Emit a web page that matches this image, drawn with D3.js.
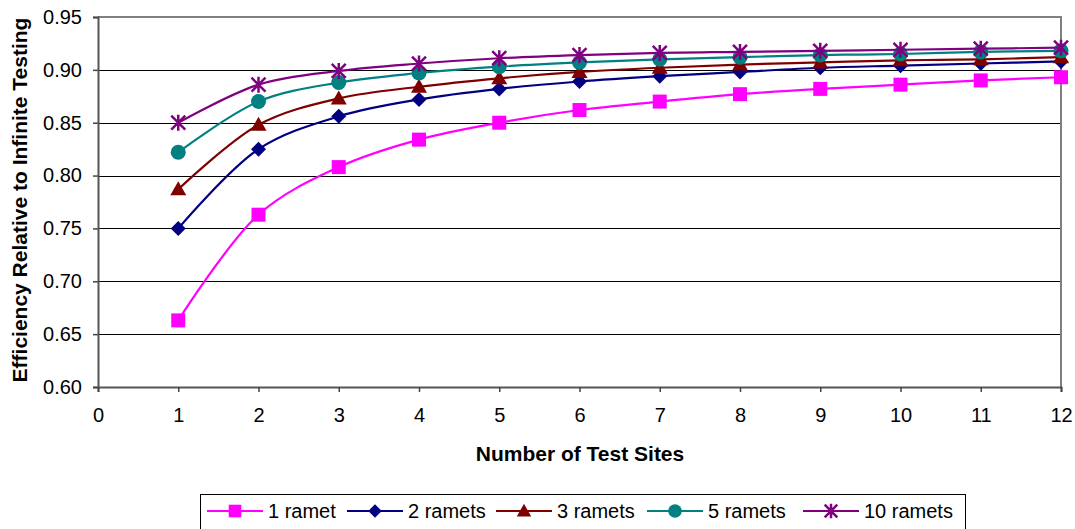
<!DOCTYPE html>
<html><head><meta charset="utf-8">
<script src="https://cdn.jsdelivr.net/npm/d3@7"></script>
<style>
body{margin:0;background:#fff;}
text{font-family:"Liberation Sans",Arial,sans-serif;}
</style></head>
<body><svg id="c" width="1075" height="529"></svg>
<script>
const sites = [1,2,3,4,5,6,7,8,9,10,11,12];
const ramet1  = [0.663,0.763,0.808,0.834,0.850,0.862,0.870,0.877,0.882,0.886,0.890,0.893];
const ramets2 = [0.750,0.825,0.856,0.872,0.882,0.889,0.894,0.898,0.902,0.904,0.906,0.908];
const ramets3 = [0.787,0.848,0.873,0.884,0.892,0.898,0.902,0.905,0.907,0.909,0.910,0.912];
const ramets5 = [0.822,0.870,0.888,0.897,0.903,0.907,0.910,0.912,0.914,0.915,0.917,0.918];
const ramets10= [0.850,0.886,0.899,0.906,0.911,0.914,0.916,0.917,0.918,0.919,0.920,0.921];
const seriesNames = ["1 ramet","2 ramets","3 ramets","5 ramets","10 ramets"];
const xTicks = [0,1,2,3,4,5,6,7,8,9,10,11,12];
const yTicks = [0.60,0.65,0.70,0.75,0.80,0.85,0.90,0.95];

const colors = ["#FF00FF","#000080","#800000","#008080","#800080"];
const shapes = ["square","diamond","triangle","circle","star"];
const allSeries = [ramet1,ramets2,ramets3,ramets5,ramets10];

const svg = d3.select("#c");
const L=98, R=1061, T=17, B=387;
const x = d3.scaleLinear().domain([0,12]).range([L,R]);
const y = d3.scaleLinear().domain([0.60,0.95]).range([B,T]);
const FS = 20, TFS = 21;

// gridlines
svg.append("g").selectAll("line").data(yTicks.filter(v=>v>0.6+1e-9 && v<0.95-1e-9)).join("line")
  .attr("x1",L).attr("x2",R).attr("y1",d=>Math.round(y(d))+0.5).attr("y2",d=>Math.round(y(d))+0.5)
  .attr("stroke","#000").attr("stroke-width",1);
// top/right border
svg.append("path").attr("d",`M${L},${T}H${R}V${B}`).attr("fill","none").attr("stroke","#808080").attr("stroke-width",2);

// axes
const xAxis = svg.append("g").attr("transform",`translate(0,${B})`)
  .call(d3.axisBottom(x).tickValues(xTicks).tickFormat(d3.format("d")).tickSize(5).tickPadding(16));
const yAxis = svg.append("g").attr("transform",`translate(${L},0)`)
  .call(d3.axisLeft(y).tickValues(yTicks).tickFormat(d3.format(".2f")).tickSize(5).tickPadding(11));
[xAxis,yAxis].forEach(a=>{
  a.select(".domain").attr("stroke","#555").attr("stroke-width",2);
  a.selectAll(".tick line").attr("stroke","#444").attr("stroke-width",1.5);
  a.selectAll("text").attr("font-size",FS).attr("fill","#000").style("font-family","Liberation Sans, Arial, sans-serif");
});

// axis titles
svg.append("text").attr("x",580).attr("y",461).attr("text-anchor","middle")
  .attr("font-size",TFS).attr("font-weight","bold").text("Number of Test Sites");
svg.append("text").attr("transform","translate(27,200) rotate(-90)").attr("text-anchor","middle")
  .attr("font-size",TFS).attr("font-weight","bold").text("Efficiency Relative to Infinite Testing");

function drawMarker(g, shape, color, cx, cy, sc){
  sc = sc || 1;
  const s=7*sc;
  if(shape==="square") g.append("rect").attr("x",cx-s).attr("y",cy-s).attr("width",2*s).attr("height",2*s).attr("fill",color);
  else if(shape==="diamond") g.append("path").attr("d",`M${cx},${cy-7.5*sc}L${cx+7.5*sc},${cy}L${cx},${cy+7.5*sc}L${cx-7.5*sc},${cy}Z`).attr("fill",color);
  else if(shape==="triangle") g.append("path").attr("d",`M${cx},${cy-8*sc}L${cx+8*sc},${cy+6*sc}L${cx-8*sc},${cy+6*sc}Z`).attr("fill",color);
  else if(shape==="circle") g.append("circle").attr("cx",cx).attr("cy",cy).attr("r",7.5*sc).attr("fill",color);
  else if(shape==="star"){
    const r=7*sc;
    g.append("path").attr("d",`M${cx-r},${cy-r}L${cx+r},${cy+r}M${cx-r},${cy+r}L${cx+r},${cy-r}M${cx},${cy-r-1}L${cx},${cy+r+1}`)
      .attr("stroke",color).attr("stroke-width",2.5).attr("fill","none");
  }
}

const line = d3.line().x((d,i)=>x(sites[i])).y(d=>y(d)).curve(d3.curveCatmullRom.alpha(0.5));
allSeries.forEach((vals,k)=>{
  const g = svg.append("g");
  g.append("path").datum(vals).attr("d",line).attr("fill","none").attr("stroke",colors[k]).attr("stroke-width",2.2);
  vals.forEach((v,i)=>drawMarker(g,shapes[k],colors[k],x(sites[i]),y(v)));
});

// legend
const lg = svg.append("g");
lg.append("rect").attr("x",200.5).attr("y",494.5).attr("width",765).attr("height",40).attr("fill","#fff").attr("stroke","#000").attr("stroke-width",1);
const legX = [207,347,496,647,803];
seriesNames.forEach((n,k)=>{
  const x0=legX[k];
  lg.append("line").attr("x1",x0).attr("x2",x0+56).attr("y1",511).attr("y2",511).attr("stroke",colors[k]).attr("stroke-width",2.2);
  drawMarker(lg,shapes[k],colors[k],x0+28,511,0.9);
  lg.append("text").attr("x",x0+61).attr("y",518).attr("font-size",FS).text(n);
});
</script></body></html>
